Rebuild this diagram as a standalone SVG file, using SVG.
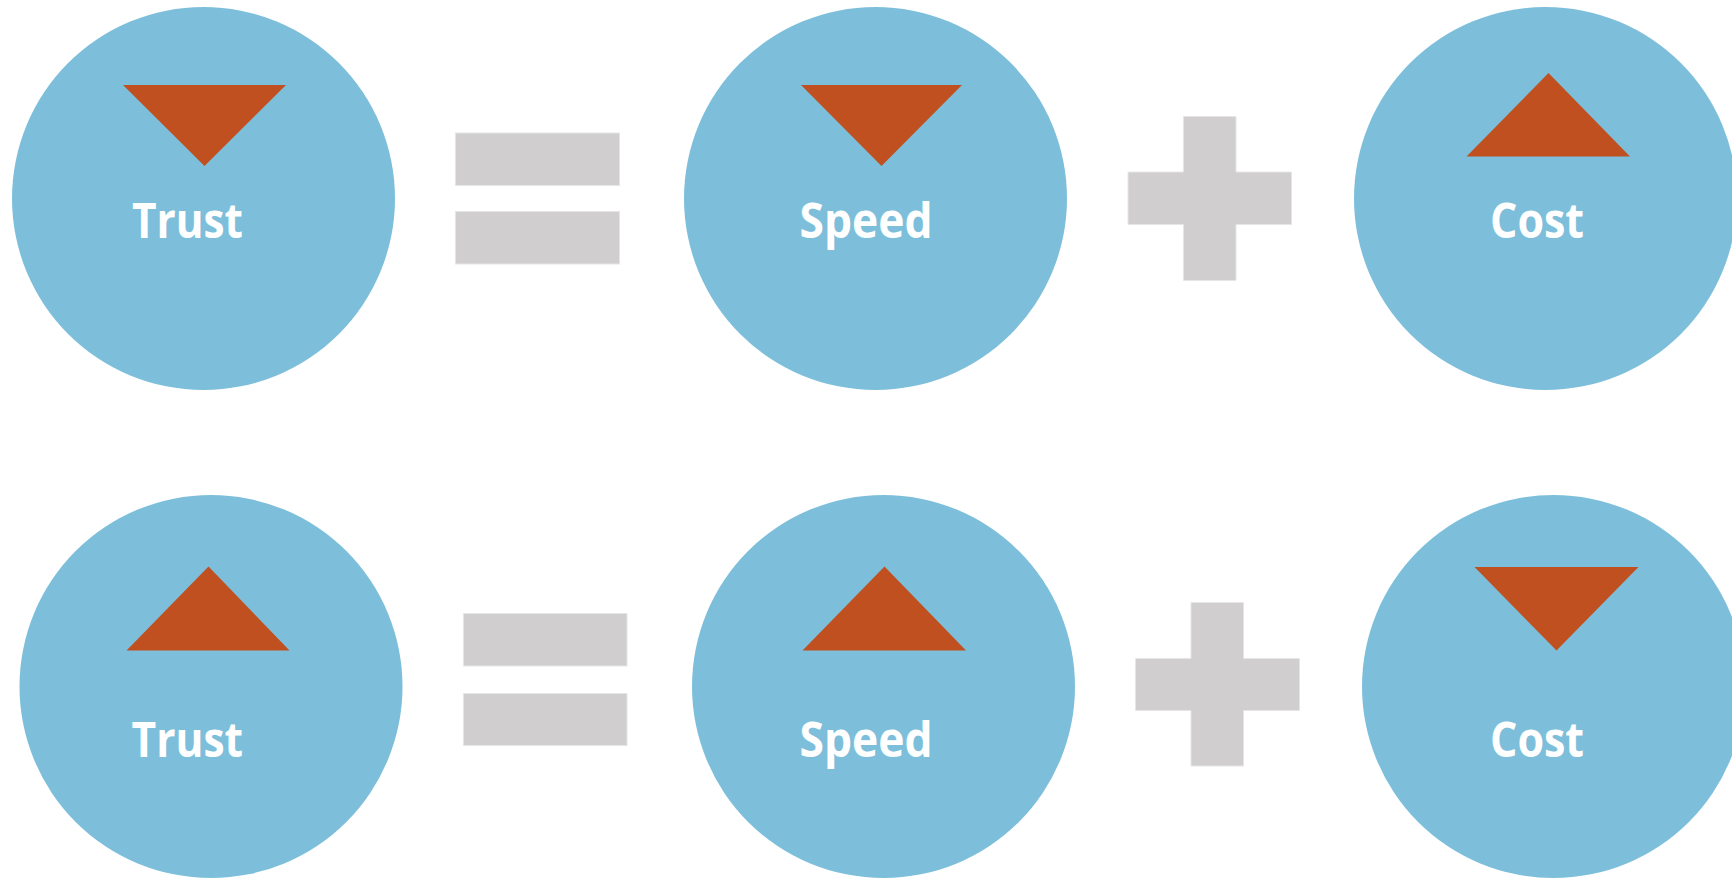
<svg xmlns="http://www.w3.org/2000/svg" width="1732" height="878" viewBox="0 0 1732 878">
  <style>
    .disc { fill: #7dbfdb; }
    .arrow { fill: #c0501f; }
    .op { fill: #d0cecf; stroke: #e6e6e6; stroke-width: 1; }
    .label { fill: #ffffff; font-family: "Open Sans", "Noto Sans", "Liberation Sans", sans-serif; font-weight: 700; font-size: 48px; }
  </style>
  <rect width="1732" height="878" fill="#ffffff"/>

  <!-- Row 1: Trust down = Speed down + Cost up -->
  <g id="trust-top">
    <circle class="disc" cx="203.5" cy="198.5" r="191.5"/>
    <polygon class="arrow" points="123,85 286,85 204.5,166"/>
    <text class="label" x="132" y="238" textLength="111" lengthAdjust="spacingAndGlyphs">Trust</text>
  </g>
  <g id="equals-top">
    <rect class="op" x="455.5" y="133" width="164" height="52.5"/>
    <rect class="op" x="455.5" y="211.5" width="164" height="52.5"/>
  </g>
  <g id="speed-top">
    <circle class="disc" cx="875.5" cy="198.5" r="191.5"/>
    <polygon class="arrow" points="801,85 962,85 881.5,166"/>
    <text class="label" x="799.5" y="238" textLength="133" lengthAdjust="spacingAndGlyphs">Speed</text>
  </g>
  <g id="plus-top">
    <path class="op" d="M1183.5,116.5 H1236 V172 H1291.5 V224.5 H1236 V280.5 H1183.5 V224.5 H1128 V172 H1183.5 Z"/>
  </g>
  <g id="cost-top">
    <circle class="disc" cx="1545.5" cy="198.5" r="191.5"/>
    <polygon class="arrow" points="1548.5,73 1630,156.5 1466.5,156.5"/>
    <text class="label" x="1490" y="238" textLength="94" lengthAdjust="spacingAndGlyphs">Cost</text>
  </g>

  <!-- Row 2: Trust up = Speed up + Cost down -->
  <g id="trust-bottom">
    <circle class="disc" cx="211" cy="686.5" r="191.5"/>
    <polygon class="arrow" points="208.5,566.5 289.5,650.5 126.5,650.5"/>
    <text class="label" x="131.5" y="756.5" textLength="111.5" lengthAdjust="spacingAndGlyphs">Trust</text>
  </g>
  <g id="equals-bottom">
    <rect class="op" x="463.5" y="613.5" width="163.5" height="52.5"/>
    <rect class="op" x="463.5" y="693.5" width="163.5" height="52"/>
  </g>
  <g id="speed-bottom">
    <circle class="disc" cx="883.5" cy="686.5" r="191.5"/>
    <polygon class="arrow" points="884.5,566.5 966,650.5 802.5,650.5"/>
    <text class="label" x="799.5" y="756.5" textLength="133" lengthAdjust="spacingAndGlyphs">Speed</text>
  </g>
  <g id="plus-bottom">
    <path class="op" d="M1191,602.5 H1243.5 V658.5 H1299.5 V710.5 H1243.5 V766 H1191 V710.5 H1135.5 V658.5 H1191 Z"/>
  </g>
  <g id="cost-bottom">
    <circle class="disc" cx="1553.5" cy="686.5" r="191.5"/>
    <polygon class="arrow" points="1474.5,567 1638.5,567 1556.5,650.5"/>
    <text class="label" x="1490" y="756.5" textLength="94" lengthAdjust="spacingAndGlyphs">Cost</text>
  </g>

  <g id="connectors"/>
</svg>
